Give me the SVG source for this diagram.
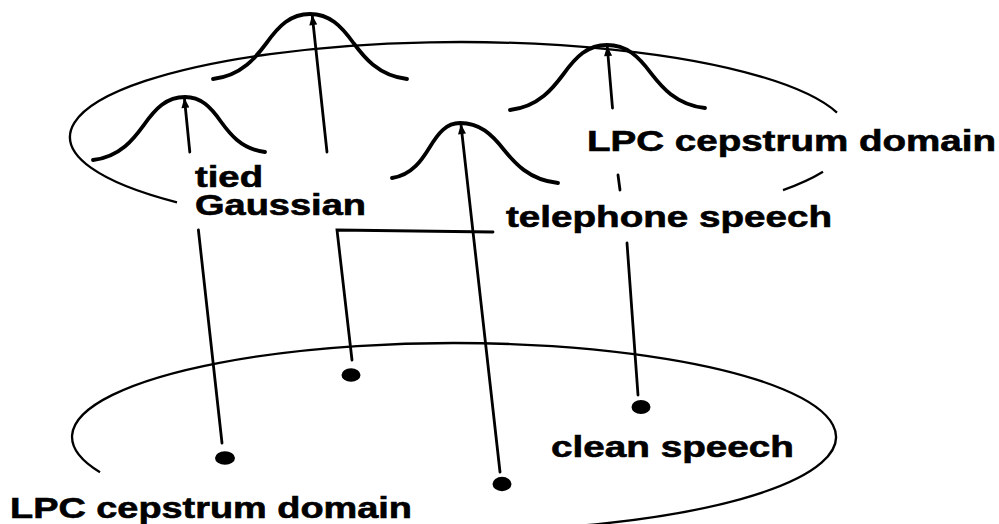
<svg xmlns="http://www.w3.org/2000/svg" width="999" height="524" viewBox="0 0 999 524">
<style>
.plane{fill:none;stroke:#000;stroke-width:2.3}
.bell{fill:none;stroke:#000;stroke-width:3.8;stroke-linecap:round}
.conn{fill:none;stroke:#000;stroke-width:2.8;stroke-linecap:round}
.dot{fill:#000}
.lbl{font-family:"Liberation Sans",Arial,Helvetica,sans-serif;font-weight:bold;font-size:29px;fill:#000;stroke:#000;stroke-width:0.6}
</style>
<defs>
<marker id="ah" viewBox="0 0 10 8" refX="9" refY="4" markerWidth="11" markerHeight="8" markerUnits="userSpaceOnUse" orient="auto">
<path d="M0,0 L10,4 L0,8 Z" fill="#000"/>
</marker>
</defs>
<rect width="999" height="524" fill="#fff"/>
<g id="top-plane">
<path class="plane" d="M837,112.7 A390 95 0 1 0 177,202.4"/>
<path class="plane" d="M783,190.2 A390 95 0 0 0 823,171.8"/>
</g>
<g id="bottom-plane">
<path class="plane" d="M100,472.3 A382 94 0 1 1 454,531"/>
</g>
<g id="bell-1">
<path class="bell" d="M93,160 C120.6,156.85 134.4,137.95 143.6,125.35 C155.6,108.3 166.6,97 185,97 C201,97 210.6,106.9 221,121.75 C229,132.75 241,149.25 265,152"/>
</g>
<g id="bell-2">
<path class="bell" d="M213,79 C242.1,75.75 256.65,56.25 266.35,43.25 C278.96,25.7 290.6,14 310,14 C329.4,14 341.04,25.7 353.65,43.25 C363.35,56.25 377.9,75.75 407,79"/>
</g>
<g id="bell-3">
<path class="bell" d="M392,178 C412.4,175.25 422.6,158.75 429.4,147.75 C438.24,132.9 446.4,123 460,123 C479.6,123 491.36,133.8 504.1,150 C513.9,162 528.6,180 558,183"/>
</g>
<g id="bell-4">
<path class="bell" d="M510,110 C539.1,106.75 553.65,87.25 563.35,74.25 C575.96,56.7 587.6,45 607,45 C626.6,45 638.36,56.34 651.1,73.35 C660.9,85.95 675.6,104.85 705,108"/>
</g>
<g id="point-1"><ellipse class="dot" cx="225" cy="458" rx="10" ry="6.8"/></g>
<g id="point-2"><ellipse class="dot" cx="351" cy="375" rx="9.5" ry="6.8"/></g>
<g id="point-3"><ellipse class="dot" cx="502" cy="484" rx="9.5" ry="7.2"/></g>
<g id="point-4"><ellipse class="dot" cx="641" cy="407" rx="9.5" ry="7"/></g>
<g id="connectors">
<line class="conn" x1="189.8" y1="152" x2="184.5" y2="99" marker-end="url(#ah)"/>
<line class="conn" x1="198.4" y1="230" x2="222" y2="443"/>
<line class="conn" x1="327" y1="152" x2="312.3" y2="16" marker-end="url(#ah)"/>
<polyline class="conn" points="493,232 337,230 352,360"/>
<line class="conn" x1="500" y1="472" x2="461" y2="125" marker-end="url(#ah)"/>
<line class="conn" x1="612.5" y1="108" x2="607.3" y2="47" marker-end="url(#ah)"/>
<line class="conn" x1="618" y1="175" x2="620" y2="190"/>
<line class="conn" x1="627" y1="243" x2="638" y2="395"/>
</g>
<g id="labels">
<text class="lbl" x="195" y="187" textLength="68" lengthAdjust="spacingAndGlyphs">tied</text>
<text class="lbl" x="195" y="215" textLength="171" lengthAdjust="spacingAndGlyphs">Gaussian</text>
<text class="lbl" x="587" y="151" textLength="409" lengthAdjust="spacingAndGlyphs">LPC cepstrum domain</text>
<text class="lbl" x="506" y="227" textLength="326" lengthAdjust="spacingAndGlyphs">telephone speech</text>
<text class="lbl" x="10" y="518" textLength="402" lengthAdjust="spacingAndGlyphs">LPC cepstrum domain</text>
<text class="lbl" x="551" y="457" textLength="243" lengthAdjust="spacingAndGlyphs">clean speech</text>
</g>
</svg>
